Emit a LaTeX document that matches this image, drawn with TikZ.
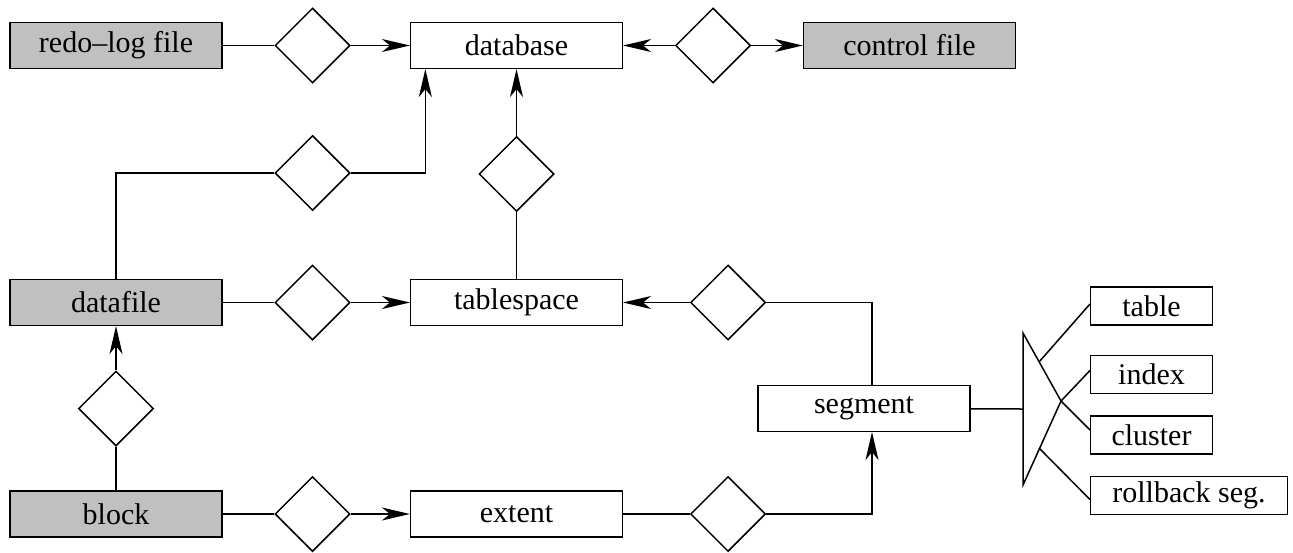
\documentclass[tikz,border=0pt]{standalone}
\usepackage{fontspec}
\setmainfont{Liberation Serif}
\usepackage{tikz}
\usetikzlibrary{arrows.meta, shapes.geometric}

\definecolor{filegray}{RGB}{192,192,192}

\begin{document}
\begin{tikzpicture}[x=0.5pt, y=-0.5pt, line width=0.75pt,
  every node/.style={font=\rmfamily\fontsize{15pt}{18pt}\selectfont},
  ent/.style={draw, rectangle, minimum width=105.8pt, minimum height=22.8pt, inner sep=0pt},
  phys/.style={ent, fill=filegray},
  rel/.style={draw, diamond, minimum width=37.5pt, minimum height=37.5pt, inner sep=0pt},
  part/.style={draw, rectangle, minimum width=60.8pt, minimum height=18.8pt, inner sep=0pt},
  arr/.style={-{Stealth[length=14pt, width=6.5pt, inset=4pt]}}]

\useasboundingbox (0,0) rectangle (1293,552);

\node[phys] (redo) at (116,45.5) {redo--log file};
\node[rel] (d1) at (312.5,45.5) {};
\node[ent] (db) at (516.5,45.5) {database};
\node[rel] (d2) at (713,45.5) {};
\node[phys] (ctl) at (909.5,45.5) {control file};

\node[rel] (d3) at (312.5,173) {};
\node[rel] (d4) at (516.5,174) {};

\node[phys] (df) at (116,302.5) {datafile};
\node[rel] (d5) at (312.5,302.5) {};
\node[ent] (ts) at (516.5,302.5) {tablespace};
\node[rel] (d6) at (728,302.5) {};

\node[ent] (seg) at (864,408.5) {segment};
\node[rel] (d7) at (116,408.5) {};

\node[phys] (blk) at (116,514) {block};
\node[rel] (d8) at (312.5,514) {};
\node[ent] (ext) at (516.5,514) {extent};
\node[rel] (d9) at (728,514) {};

\node[part] (tab) at (1151.5,306) {table};
\node[part] (idx) at (1151.5,374.5) {index};
\node[part] (clu) at (1151.5,435) {cluster};
\node[part, minimum width=98.3pt] (rbs) at (1189,495.5) {rollback seg.};

\coordinate (t1) at (1023,333);
\coordinate (t2) at (1061,401);
\coordinate (t3) at (1023,485);
\coordinate (tm) at (1023,409);
\coordinate (tu) at (1039,362);
\coordinate (tl) at (1039,448);

\path[draw] (redo) -- (d1);
\path[draw, arr] (d1) -- (db);
\path[draw, arr] (d2) -- (db);
\path[draw, arr] (d2) -- (ctl);

\path[draw] (df) |- (d3);
\path[draw, arr] (d3) -| ([xshift=7.7pt]db.south west);
\path[draw, arr] (d4) -- (db);
\path[draw] (d4) -- (ts);

\path[draw] (df) -- (d5);
\path[draw, arr] (d5) -- (ts);
\path[draw, arr] (d6) -- (ts);
\path[draw] (d6) -| ([xshift=4pt]seg.north);

\path[draw, arr] (d7) -- (df);
\path[draw] (d7) -- (blk);

\path[draw] (blk) -- (d8);
\path[draw, arr] (d8) -- (ext);
\path[draw] (ext) -- (d9);
\path[draw, arr] (d9) -| ([xshift=4pt]seg.south);

\path[draw] (seg) -- (tm);
\path[draw] (t1) -- (t2) -- (t3) -- cycle;
\path[draw] (tu) -- ([yshift=1pt]tab.west);
\path[draw] (t2) -- ([yshift=2pt]idx.west);
\path[draw] (t2) -- ([yshift=2.5pt]clu.west);
\path[draw] (tl) -- ([yshift=-2pt]rbs.west);

\end{tikzpicture}
\end{document}
